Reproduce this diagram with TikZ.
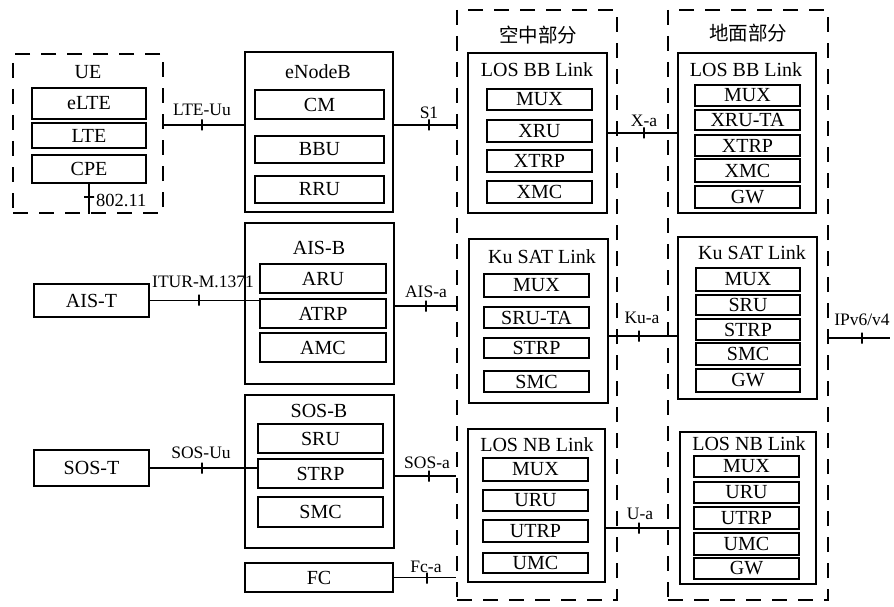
\documentclass[tikz,border=0pt]{standalone}
\usepackage{fontspec}
\setmainfont{Liberation Serif}
\newfontfamily\cjkfont{Noto Sans CJK SC}
\newcommand\mkbx[7]{\node[#1, minimum width={(#5-#3)*1pt}, minimum height={(#6-#4)*1pt}] (#2) at ({(#3+#5)/2},{(#4+#6)/2}) {#7};}
\tikzset{
  dbox/.style={draw, line width=2.4pt, dash pattern=on 15pt off 11pt, inner sep=0pt},
  obox/.style={draw, line width=1.4pt, inner sep=0pt},
  sbox/.style={draw, line width=1.9pt, inner sep=0pt},
  ttl/.style={inner sep=0pt},
  cjkttl/.style={inner sep=0pt, font=\cjkfont\fontsize{19.5}{20}\selectfont},
  conn/.style={line width=1.7pt},
  tickv/.style={draw, line width=1.5pt, minimum width=0pt, minimum height=11pt, inner sep=0pt, outer sep=0pt},
  tickh/.style={draw, line width=1.5pt, minimum width=10pt, minimum height=0pt, inner sep=0pt, outer sep=0pt},
  lbl/.style={font=\fontsize{17.5}{18}\selectfont, inner sep=0pt, anchor=base},
}
\begin{document}
\begin{tikzpicture}[x=1pt,y=-1pt,font=\fontsize{20}{21}\selectfont]
\useasboundingbox (0,0) rectangle (894,607);
% UE
\mkbx{dbox}{ue}{13}{54}{163}{213}{}
\node[ttl] (uet) at (88,72) {UE};
\mkbx{sbox}{elte}{32}{88}{146}{119}{eLTE}
\mkbx{sbox}{lte}{32}{123}{146}{148}{LTE}
\mkbx{sbox}{cpe}{32}{155}{146}{183}{CPE}
% eNodeB
\mkbx{obox}{enb}{245}{52}{393}{212}{}
\node[ttl] (enbt) at (318,72) {eNodeB};
\mkbx{sbox}{cm}{255}{90}{384}{119}{CM}
\mkbx{sbox}{bbu}{255}{136}{384}{163}{BBU}
\mkbx{sbox}{rru}{255}{176}{384}{203}{RRU}
% AIS
\mkbx{obox}{aist}{34}{284}{149}{317}{AIS-T}
\mkbx{obox}{aisb}{245}{223}{394}{384}{}
\node[ttl] (aisbt) at (319,248) {AIS-B};
\mkbx{sbox}{aru}{260}{264}{386}{293}{ARU}
\mkbx{sbox}{atrp}{260}{299}{386}{328}{ATRP}
\mkbx{sbox}{amc}{260}{333}{386}{362}{AMC}
% SOS
\mkbx{obox}{sost}{34}{450}{149}{486}{SOS-T}
\mkbx{obox}{sosb}{245}{395}{394}{548}{}
\node[ttl] (sosbt) at (319,411) {SOS-B};
\mkbx{sbox}{sru}{258}{424}{383}{453}{SRU}
\mkbx{sbox}{strp}{258}{459}{383}{488}{STRP}
\mkbx{sbox}{smc}{258}{497}{383}{527}{SMC}
\mkbx{obox}{fc}{245}{563}{393}{592}{FC}
% Air part
\mkbx{dbox}{air}{457}{10}{617}{600}{}
\node[cjkttl] (airt) at (538,35) {空中部分};
\mkbx{obox}{abb}{468}{53}{607}{213}{}
\node[ttl] (abbt) at (537,70) {LOS BB Link};
\mkbx{sbox}{abb1}{487}{89}{592}{110}{MUX}
\mkbx{sbox}{abb2}{487}{120}{592}{142}{XRU}
\mkbx{sbox}{abb3}{487}{150}{592}{172}{XTRP}
\mkbx{sbox}{abb4}{487}{181}{592}{203}{XMC}
\mkbx{obox}{aku}{469}{239}{608}{403}{}
\node[ttl] (akut) at (542,257) {Ku SAT Link};
\mkbx{sbox}{aku1}{484}{274}{589}{297}{MUX}
\mkbx{sbox}{aku2}{484}{307}{589}{328}{SRU-TA}
\mkbx{sbox}{aku3}{484}{338}{589}{358}{STRP}
\mkbx{sbox}{aku4}{484}{371}{589}{392}{SMC}
\mkbx{obox}{anb}{468}{429}{605}{582}{}
\node[ttl] (anbt) at (537,445) {LOS NB Link};
\mkbx{sbox}{anb1}{483}{458}{588}{481}{MUX}
\mkbx{sbox}{anb2}{483}{490}{588}{511}{URU}
\mkbx{sbox}{anb3}{483}{520}{588}{542}{UTRP}
\mkbx{sbox}{anb4}{483}{553}{588}{573}{UMC}
% Ground part
\mkbx{dbox}{gnd}{668}{10}{828}{600}{}
\node[cjkttl] (gndt) at (748,33) {地面部分};
\mkbx{obox}{gbb}{678}{53}{816}{213}{}
\node[ttl] (gbbt) at (746,70) {LOS BB Link};
\mkbx{sbox}{gbb1}{695}{85}{800}{106}{MUX}
\mkbx{sbox}{gbb2}{695}{110}{800}{130}{XRU-TA}
\mkbx{sbox}{gbb3}{695}{135}{800}{156}{XTRP}
\mkbx{sbox}{gbb4}{695}{159}{800}{182}{XMC}
\mkbx{sbox}{gbb5}{695}{186}{800}{208}{GW}
\mkbx{obox}{gku}{678}{237}{817}{399}{}
\node[ttl] (gkut) at (752,253) {Ku SAT Link};
\mkbx{sbox}{gku1}{696}{268}{800}{291}{MUX}
\mkbx{sbox}{gku2}{696}{295}{800}{315}{SRU}
\mkbx{sbox}{gku3}{696}{319}{800}{340}{STRP}
\mkbx{sbox}{gku4}{696}{343}{800}{365}{SMC}
\mkbx{sbox}{gku5}{696}{369}{800}{392}{GW}
\mkbx{obox}{gnb}{680}{432}{816}{584}{}
\node[ttl] (gnbt) at (749,444) {LOS NB Link};
\mkbx{sbox}{gnb1}{694}{456}{799}{477}{MUX}
\mkbx{sbox}{gnb2}{694}{482}{799}{503}{URU}
\mkbx{sbox}{gnb3}{694}{507}{799}{529}{UTRP}
\mkbx{sbox}{gnb4}{694}{533}{799}{555}{UMC}
\mkbx{sbox}{gnb5}{694}{558}{799}{579}{GW}
% Connectors
\draw[conn] (ue.east |- 0,125) -- (enb.west |- 0,125);
\node[tickv] (t1) at (202,125) {};
\node[lbl] (l1) at (202,116) {LTE-Uu};
\draw[conn] (enb.east |- 0,125) -- (air.west |- 0,125);
\node[tickv] (t2) at (429,125) {};
\node[lbl] (l2) at (429,119) {S1};
\draw[conn] (cpe.south) -- (cpe.south |- ue.south);
\node[tickh] (t3) at (89,197) {};
\node[lbl, anchor=base west, font=\fontsize{18.5}{19}\selectfont] (l3) at (96,206) {802.11};
\draw[conn] (aist.east) -- (aist.east -| atrp.west);
\node[tickv] (t4) at (199,300) {};
\node[lbl] (l4) at (203,287) {ITUR-M.1371};
\draw[conn] (aisb.east |- 0,306) -- (air.west |- 0,306);
\node[tickv] (t5) at (426,306) {};
\node[lbl] (l5) at (426,297) {AIS-a};
\draw[conn] (sost.east) -- (sost.east -| strp.west);
\node[tickv] (t6) at (202,468) {};
\node[lbl] (l6) at (201,458) {SOS-Uu};
\draw[conn] (sosb.east |- 0,476) -- (air.west |- 0,476);
\node[tickv] (t7) at (429,476) {};
\node[lbl] (l7) at (427,468) {SOS-a};
\draw[conn] (fc.east) -- (fc.east -| air.west);
\node[tickv] (t8) at (427,578) {};
\node[lbl] (l8) at (426,572) {Fc-a};
\draw[conn] (abb.east) -- (gbb.west);
\node[tickv] (t9) at (644,133) {};
\node[lbl] (l9) at (644,127) {X-a};
\draw[conn] (aku.east |- 0,336) -- (gku.west |- 0,336);
\node[tickv] (t10) at (639,336) {};
\node[lbl] (l10) at (642,323) {Ku-a};
\draw[conn] (anb.east |- 0,528) -- (gnb.west |- 0,528);
\node[tickv] (t11) at (639,528) {};
\node[lbl] (l11) at (640,519) {U-a};
\coordinate (ipend) at (890,338);
\draw[conn] (gnd.east |- ipend) -- (ipend);
\node[tickv] (t12) at (862,338) {};
\node[lbl] (l12) at (862,325) {IPv6/v4};
\end{tikzpicture}
\end{document}
